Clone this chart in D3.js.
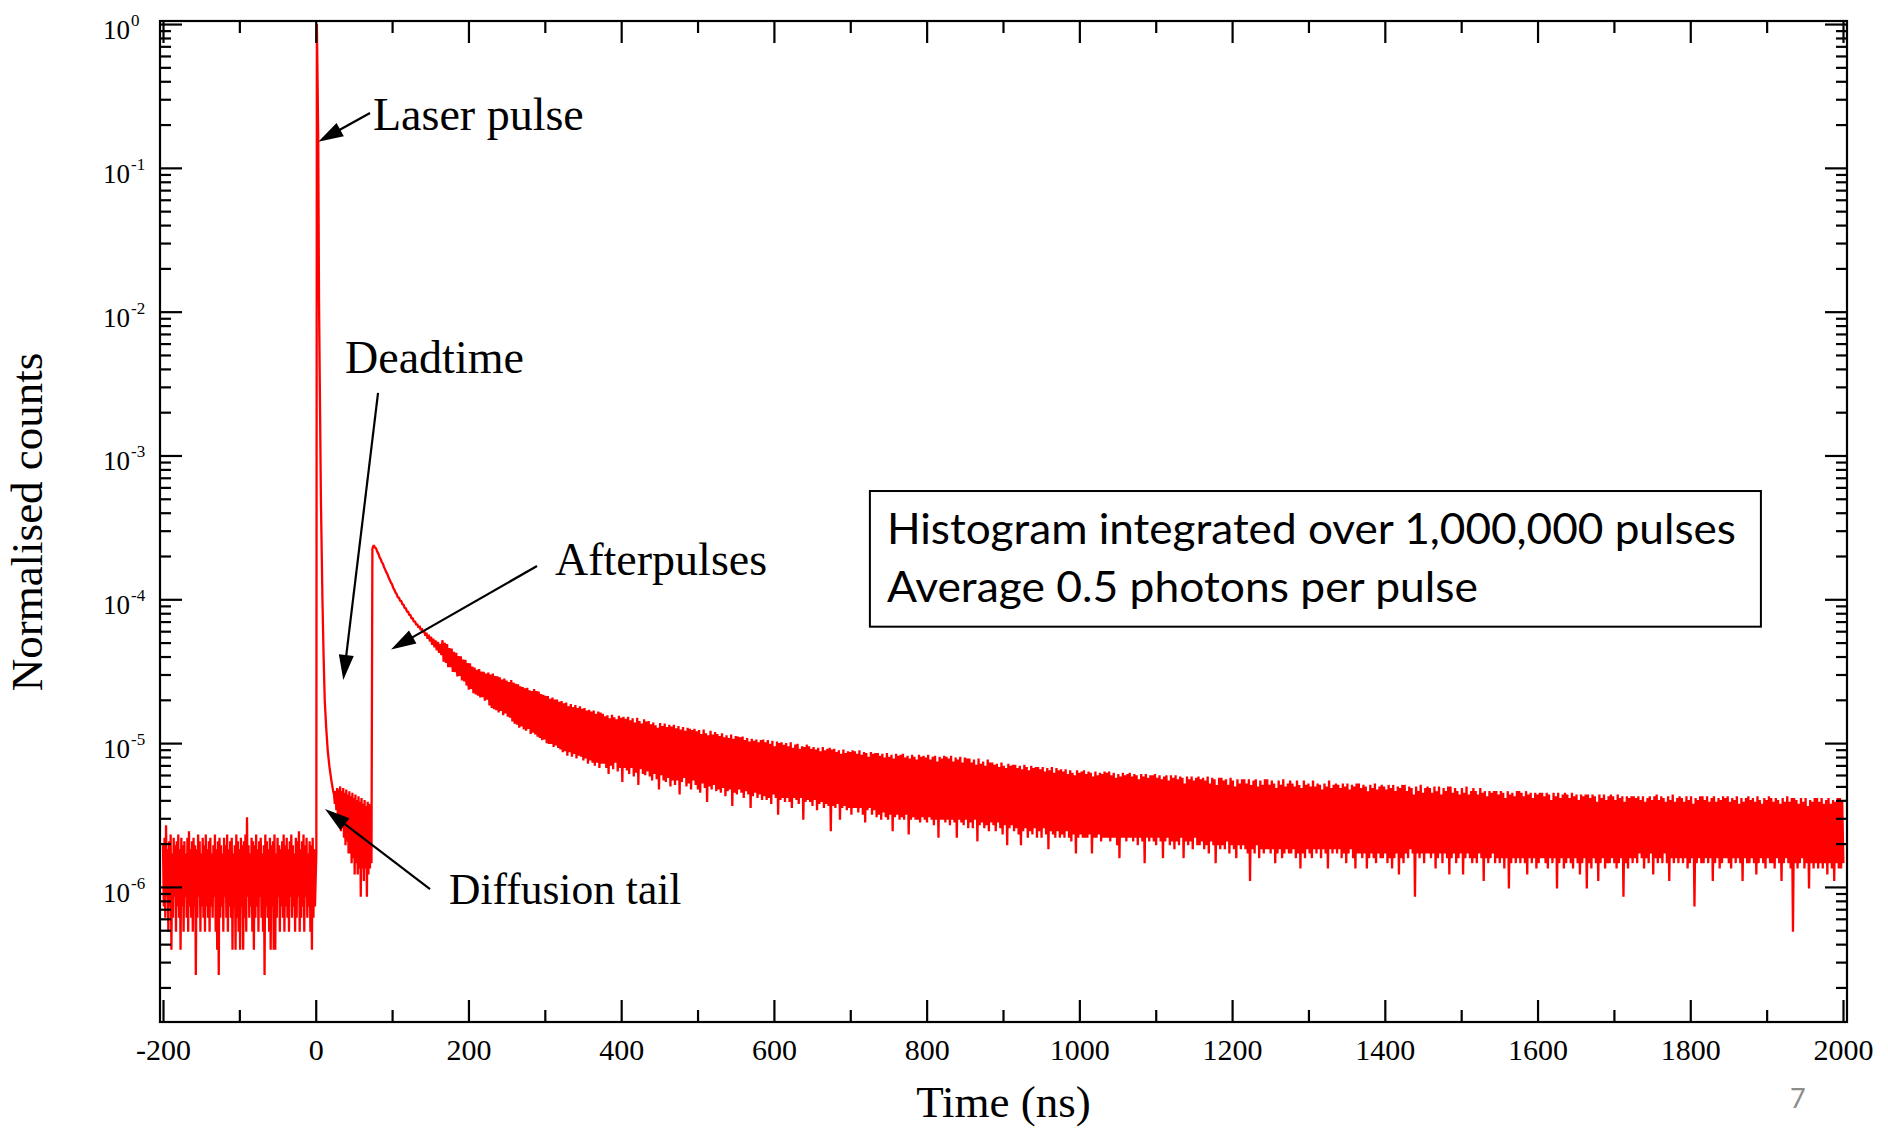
<!DOCTYPE html>
<html><head><meta charset="utf-8">
<script src="https://cdn.jsdelivr.net/npm/d3@7"></script>
<style>
html,body{margin:0;padding:0;background:#fff;}
svg{display:block;}
</style></head><body>
<svg id="chart" width="1888" height="1130"></svg>
<script>
// ================= DATA =================
// raw histogram counts; normalised counts = counts / peakCounts
const peakCounts = 8.2e6;

const xTickValues = [-200, 0, 200, 400, 600, 800, 1000, 1200, 1400, 1600, 1800, 2000];
const xMinorTickValues = [-100, 100, 300, 500, 700, 900, 1100, 1300, 1500, 1700, 1900];
const yTickExponents = [0, -1, -2, -3, -4, -5, -6];
const yMinorMultipliers = [2, 3, 4, 5, 6, 7, 8, 9];
const yMinorExponents = [-7, -6, -5, -4, -3, -2, -1];

// Noisy parts are given per display bin as the upper and lower sample
// (upper at the bin start, lower half a bin later).

// background before the laser pulse: 2 ns bins from -200 ns
const backgroundStart = -200, backgroundStep = 2;
const backgroundUpper = [
  16,18,22,15,17,19,14,18,16,17,
  19,15,18,16,17,14,18,20,15,17,
  18,16,15,19,17,14,18,16,19,15,
  17,18,14,16,19,15,17,18,16,14,
  18,16,19,15,17,18,14,16,19,17,
  15,18,16,17,19,25,16,14,18,17,
  16,19,15,17,18,14,16,19,17,15,
  18,16,17,19,14,18,16,15,17,19,
  16,18,15,17,19,16,14,18,17,20,
  15,17,19,16,18,14,17,16,18,15
];
const backgroundLower = [
  6,5,7,4,6,3,5,7,4,6,
  5,3,6,4,7,5,4,6,5,4,
  6,2,5,7,4,6,5,4,6,5,
  4,6,5,7,4,3,2,5,6,4,
  7,5,4,6,5,3,6,3,5,4,
  3,6,3,5,4,7,5,6,4,3,
  5,6,4,7,5,4,2,6,5,4,
  3,6,3,3,5,7,4,6,5,4,
  6,5,4,7,5,6,4,5,7,4,
  5,6,4,7,5,6,4,3,5,6
];

// laser pulse peak, fast decay and the afterpulse onset (ns, counts)
const pulseTimes = [0.8, 1.5, 2.5, 3.3, 4.3, 5.2, 6.0, 6.8, 7.8, 8.8,
  10.3, 11.8, 13.7, 15.7, 18, 20.5, 22.8, 74.2];
const pulseCounts = [14, 8200000, 3000000, 1240000, 98700, 29700, 11000, 4000, 1800, 810,
  330, 163, 105, 73, 56, 45, 38, 1850];

// diffusion tail / deadtime: 2 ns bins from 24 ns
const tailStart = 24, tailStep = 2;
const tailUpper = [36,38,40,39,41,38,40,37,39,36,38,35,37,34,36,33,35,32,34,31,33,30,32,31,30];
const tailLower = [31,28,25,23,20,21,18,16,17,14,14,12,13,10,12,10,11,7,11,9,11,7,10,11,12];

// afterpulse decay: 3 ns bins from 76 ns
const afterpulseStart = 76, afterpulseStep = 3;
const afterpulseUpper = [
  1950,1850,1705,1560,1445,1320,1222,1118,1040,955,
  892,842,798,752,712,672,638,606,578,552,
  536,515,498,480,466,450,436,425,414,402,
  426,408,400,375,372,354,348,331,329,312,
  311,296,294,279,275,265,268,258,257,250,
  254,246,250,240,239,235,227,231,223,218,
  225,216,212,210,204,201,197,199,191,189,
  195,189,187,180,178,175,174,167,170,165,
  165,159,161,155,157,148,153,146,151,144,
  148,142,144,138,140,136,138,131,136,134,
  131,126,128,122,129,124,120,127,123,125,
  121,125,118,122,114,123,117,112,120,116,
  117,111,114,109,105,113,108,112,106,110,
  107,110,104,108,102,106,100,105,103,101,
  103,99,101,95,102,96,93,100,94,98,
  95,92,96,90,93,89,94,88,92,91,
  90,91,86,89,84,88,85,87,83,86,
  87,83,86,81,85,78,84,82,83,80,
  82,78,83,76,80,81,75,78,77,80,
  78,75,77,74,76,72,77,73,75,76,
  74,75,71,73,69,74,70,72,71,73,
  72,69,73,68,71,70,66,71,69,70,
  70,67,69,65,70,66,68,64,69,67,
  68,69,65,67,64,68,66,63,68,66,
  67,65,68,63,66,67,61,66,64,67,
  66,64,67,61,65,63,66,60,65,64,
  64,60,63,58,64,59,61,57,63,60,
  60,58,59,56,60,57,55,59,57,58,
  58,55,57,54,58,56,53,57,55,56,
  56,54,56,52,55,53,56,51,55,53,
  54,52,54,50,53,51,49,53,51,52,
  53,50,52,51,48,52,49,51,50,52,
  51,52,49,51,47,50,48,51,49,50,
  51,48,50,49,46,50,48,50,47,49,
  49,50,47,49,46,48,49,45,49,47,
  49,46,48,47,43,48,46,48,45,47,
  48,46,47,45,48,43,47,46,42,47,
  47,45,46,42,47,45,41,46,43,46,
  46,43,46,42,45,46,41,45,42,46,
  46,42,45,43,40,45,42,46,41,43,
  45,43,41,45,42,40,45,42,43,41,
  45,41,43,42,39,43,41,45,40,42,
  43,42,40,43,41,43,39,42,41,43,
  43,40,42,41,38,42,40,43,39,41,
  42,41,39,42,40,42,38,41,40,42,
  42,38,41,40,36,41,38,42,37,40,
  41,40,37,41,38,41,36,40,38,41,
  41,37,40,38,36,40,37,41,36,38,
  40,38,36,40,37,38,35,38,37,38,
  38,36,38,37,34,38,36,37,35,38,
  38,37,35,38,36,37,34,37,36,37,
  37,35,37,36,33,37,35,37,34,36,
  37,36,34,37,35,36,33,36,35,36,
  36,34,36,35,32,36,34,36,33,35,
  36,35,33,36,34,35,32,35,34,35,
  35,34,35,33,35,32,34,35,33,35,
  36,33,35,34,32,35,33,36,32,34,
  35,34,32,35,33,35,31,34,33,35,
  35,33,35,32,34,35,32,34,33,35,
  34,35,32,34,33,35,31,34,32,34,
  35,33,34,32,35,33,31,34,33,35,
  34,32,34,33,31,34,32,35,32,34,
  34,33,31,34,32,34,30,33,32,34,
  34,32,34,31,33,34,31,33,32,34,
  34,32
];
const afterpulseLower = [
  1880,1760,1615,1490,1370,1260,1160,1070,985,912,
  846,800,756,712,672,636,602,572,544,520,
  500,480,458,436,418,396,380,362,348,336,
  302,296,277,276,256,255,238,240,224,220,
  206,193,195,182,179,175,170,171,162,164,
  150,144,141,139,134,137,128,132,125,123,
  116,112,110,105,107,102,100,103,95,97,
  94,91,89,86,87,82,81,81,77,79,
  76,74,71,72,67,71,66,69,64,67,
  66,62,64,59,62,60,57,60,55,59,
  59,55,50,57,54,60,52,55,44,55,
  53,50,55,48,51,42,54,50,49,52,
  48,45,50,46,39,49,45,44,47,41,
  45,42,45,36,44,47,41,43,39,45,
  42,39,37,43,40,32,41,39,42,38,
  39,37,40,35,38,39,30,37,36,39,
  37,34,38,36,29,35,37,34,36,33,
  35,33,34,31,36,34,26,33,34,32,
  34,32,29,34,33,31,34,24,32,33,
  32,30,33,28,31,32,29,31,30,20,
  30,29,31,24,29,30,28,29,26,29,
  29,27,29,26,23,28,29,26,28,25,
  26,24,27,25,24,26,20,25,26,24,
  25,24,26,19,24,25,24,24,23,25,
  24,23,25,24,22,24,18,24,24,23,
  24,22,24,23,18,24,23,22,24,21,
  23,21,24,17,22,23,21,22,20,23,
  22,20,23,21,19,22,16,21,22,20,
  21,19,16,20,21,18,20,19,21,18,
  20,18,21,19,15,20,19,18,20,18,
  19,18,20,18,17,19,14,18,19,18,
  18,18,19,14,18,18,19,17,18,18,
  18,17,18,18,16,13,18,18,17,18,
  18,17,18,16,18,17,12,18,17,18,
  17,16,18,17,13,17,18,16,17,15,
  17,16,18,13,17,16,17,15,18,16,
  16,17,15,16,14,17,16,12,16,15,
  16,15,17,14,16,15,13,16,15,16,
  15,14,9,15,14,16,13,15,14,15,
  15,14,15,12,14,15,13,14,15,14,
  14,15,13,14,11,14,13,15,14,13,
  15,14,15,13,15,14,11,15,14,15,
  14,15,13,14,12,14,15,13,11,14,
  14,13,14,11,13,14,13,12,14,13,
  13,14,12,13,11,13,14,10,13,12,
  14,13,15,14,7,14,13,14,12,14,
  14,13,14,11,13,14,12,14,13,10,
  13,14,12,13,14,10,13,14,13,12,
  13,12,14,13,9,13,12,13,14,12,
  13,12,13,11,13,8,12,13,12,13,
  12,13,12,10,13,12,13,11,12,13,
  13,12,11,13,12,13,8,12,13,11,
  12,13,12,11,13,12,10,12,13,8,
  12,11,13,12,9,12,13,11,12,12,
  13,12,11,12,13,7,12,11,13,12,
  13,12,14,13,11,13,12,14,10,13,
  12,13,12,14,12,9,13,12,13,12,
  13,12,13,11,12,13,6,12,13,12,
  12,13,12,13,9,12,13,11,12,13,
  13,12,11,13,12,13,12,9,13,12,
  12,13,12,10,12,13,12,11,13,12,
  12,11,13,12,9,12,13,12,11,4,
  12,11,12,13,11,12,8,12,11,12,
  11,12,11,12,10,12,11,9,12,11,
  11,12
];

// annotations, in data coordinates (ns, normalised counts)
const annotationLabels = ["Laser pulse", "Deadtime", "Afterpulses", "Diffusion tail"];
const annotationTextAt = [[75, 0.1833], [38.4, 3.75e-3], [313.4, 1.476e-4], [174.5, 7.61e-7]];
const annotationArrowFrom = [[71.1, 0.2406], [81.6, 2.72e-3], [289.8, 1.703e-4], [149.7, 9.67e-7]];
const annotationArrowTo = [[3.4, 0.152], [36.1, 2.75e-5], [98.6, 4.475e-5], [12.2, 3.48e-6]];

const noteLines = ["Histogram integrated over 1,000,000 pulses", "Average 0.5 photons per pulse"];
const noteBoxCorners = [[725.7, 5.66e-4], [1892.5, 6.45e-5]];

const xTitle = "Time (ns)";
const yTitle = "Normalised counts";
const pageNumber = "7";

// ================= LAYOUT =================
const frame = {left: 160, right: 1847, top: 21, bottom: 1022};
const serif = "'Liberation Serif','Times New Roman',Times,serif";
const sans = "Lato,'Open Sans','Noto Sans',sans-serif";
const red = "#ff0000";

const svg = d3.select("#chart");
svg.append("rect").attr("width", 1888).attr("height", 1130).attr("fill", "#fff");

const x = d3.scaleLinear().domain([-200, 2000]).range([163, 1843]);
const y = d3.scaleLog().domain([1.15e-7, 1.05]).range([frame.bottom, frame.top]);

// build the series
const series = [];
function addBins(start, step, upper, lower) {
  const n = Math.min(upper.length, lower.length);
  for (let i = 0; i < n; i++) {
    const t = start + i * step;
    series.push({t: t, v: upper[i] / peakCounts});
    series.push({t: t + step / 2, v: lower[i] / peakCounts});
  }
}
addBins(backgroundStart, backgroundStep, backgroundUpper, backgroundLower);
pulseTimes.forEach((t, i) => series.push({t, v: pulseCounts[i] / peakCounts}));
addBins(tailStart, tailStep, tailUpper, tailLower);
addBins(afterpulseStart, afterpulseStep, afterpulseUpper, afterpulseLower);
series.sort((a, b) => a.t - b.t);

svg.append("clipPath").attr("id", "clip").append("rect")
  .attr("x", frame.left).attr("y", frame.top)
  .attr("width", frame.right - frame.left).attr("height", frame.bottom - frame.top);

const line = d3.line().x(d => x(d.t)).y(d => y(d.v));
svg.append("path").datum(series)
  .attr("clip-path", "url(#clip)")
  .attr("d", line)
  .attr("fill", "none")
  .attr("stroke", red)
  .attr("stroke-width", 2.3)
  .attr("stroke-linejoin", "bevel");

// axes (ticks inward)
function styleAxis(g) {
  g.select(".domain").remove();
  g.selectAll("line").attr("stroke", "#000").attr("stroke-width", 2.2);
}
const yMinorValues = [];
yMinorExponents.forEach(e => yMinorMultipliers.forEach(m => {
  const v = m * Math.pow(10, e);
  if (v >= y.domain()[0] && v <= y.domain()[1]) yMinorValues.push(v);
}));
const yMajorValues = yTickExponents.map(e => Math.pow(10, e));

const gxb = svg.append("g").attr("transform", `translate(0,${frame.bottom})`)
  .call(d3.axisBottom(x).tickValues(xTickValues).tickSize(-22).tickPadding(17).tickFormat(d => String(d)));
styleAxis(gxb);
gxb.attr("font-family", serif).attr("font-size", 30);
gxb.selectAll("text").attr("font-family", serif).attr("font-size", 30).attr("fill", "#000");

styleAxis(svg.append("g").attr("transform", `translate(0,${frame.bottom})`)
  .call(d3.axisBottom(x).tickValues(xMinorTickValues).tickSize(-12).tickFormat(() => "")));
styleAxis(svg.append("g").attr("transform", `translate(0,${frame.top})`)
  .call(d3.axisTop(x).tickValues(xTickValues).tickSize(-22).tickFormat(() => "")));
styleAxis(svg.append("g").attr("transform", `translate(0,${frame.top})`)
  .call(d3.axisTop(x).tickValues(xMinorTickValues).tickSize(-12).tickFormat(() => "")));

styleAxis(svg.append("g").attr("transform", `translate(${frame.left},0)`)
  .call(d3.axisLeft(y).tickValues(yMajorValues).tickSize(-22).tickFormat(() => "")));
styleAxis(svg.append("g").attr("transform", `translate(${frame.left},0)`)
  .call(d3.axisLeft(y).tickValues(yMinorValues).tickSize(-11).tickFormat(() => "")));
styleAxis(svg.append("g").attr("transform", `translate(${frame.right},0)`)
  .call(d3.axisRight(y).tickValues(yMajorValues).tickSize(-22).tickFormat(() => "")));
styleAxis(svg.append("g").attr("transform", `translate(${frame.right},0)`)
  .call(d3.axisRight(y).tickValues(yMinorValues).tickSize(-11).tickFormat(() => "")));

// frame
svg.append("rect")
  .attr("x", frame.left).attr("y", frame.top)
  .attr("width", frame.right - frame.left).attr("height", frame.bottom - frame.top)
  .attr("fill", "none").attr("stroke", "#000").attr("stroke-width", 2.2);

// y tick labels with superscripts
const yl = svg.append("g").attr("font-family", serif).attr("fill", "#000");
yTickExponents.forEach(e => {
  const yy = y(Math.pow(10, e));
  yl.append("text").attr("x", 130).attr("y", yy + 15).attr("text-anchor", "end")
    .attr("font-size", 27).text("10");
  yl.append("text").attr("x", 131).attr("y", yy + 2).attr("text-anchor", "start")
    .attr("font-size", 17).text(e === 0 ? "0" : "-" + (-e));
});

// axis titles
svg.append("text").attr("x", (frame.left + frame.right) / 2).attr("y", 1117)
  .attr("text-anchor", "middle").attr("font-family", serif).attr("font-size", 45)
  .attr("fill", "#000").text(xTitle);
svg.append("text").attr("transform", "translate(42,522) rotate(-90)")
  .attr("text-anchor", "middle").attr("font-family", serif).attr("font-size", 45)
  .attr("fill", "#000").text(yTitle);

// annotations
const ann = svg.append("g");
function arrow(x1, y1, x2, y2) {
  const dx = x2 - x1, dy = y2 - y1, L = Math.hypot(dx, dy), ux = dx / L, uy = dy / L;
  const headL = 25, headW = 7.5;
  const bx = x2 - ux * headL, by = y2 - uy * headL;
  ann.append("line").attr("x1", x1).attr("y1", y1).attr("x2", bx + ux * 3).attr("y2", by + uy * 3)
    .attr("stroke", "#000").attr("stroke-width", 2.2);
  ann.append("path")
    .attr("d", `M${x2},${y2}L${bx - uy * headW},${by + ux * headW}L${bx + uy * headW},${by - ux * headW}Z`)
    .attr("fill", "#000");
}
const labelSizes = [46, 46, 46, 43.5];
annotationLabels.forEach((lab, i) => {
  const [tx, tv] = annotationTextAt[i];
  ann.append("text").attr("x", x(tx)).attr("y", y(tv))
    .attr("font-family", serif).attr("font-size", labelSizes[i]).attr("fill", "#000").text(lab);
  const [fx, fv] = annotationArrowFrom[i], [ex, ev] = annotationArrowTo[i];
  arrow(x(fx), y(fv), x(ex), y(ev));
});

// note box
const bx0 = x(noteBoxCorners[0][0]), by0 = y(noteBoxCorners[0][1]);
const bx1 = x(noteBoxCorners[1][0]), by1 = y(noteBoxCorners[1][1]);
svg.append("rect").attr("x", bx0).attr("y", by0).attr("width", bx1 - bx0).attr("height", by1 - by0)
  .attr("fill", "#fff").attr("stroke", "#000").attr("stroke-width", 2);
const noteWidths = [849, 591];
noteLines.forEach((s, i) => {
  svg.append("text").attr("x", bx0 + 17).attr("y", by0 + 53 + i * 58)
    .attr("font-family", sans).attr("font-size", 43).attr("fill", "#000")
    .attr("textLength", noteWidths[i]).attr("lengthAdjust", "spacingAndGlyphs")
    .text(s);
});

// page number
svg.append("text").attr("x", 1790).attr("y", 1108)
  .attr("font-family", sans).attr("font-size", 27).attr("fill", "#8c8c8c").text(pageNumber);
</script>
</body></html>
